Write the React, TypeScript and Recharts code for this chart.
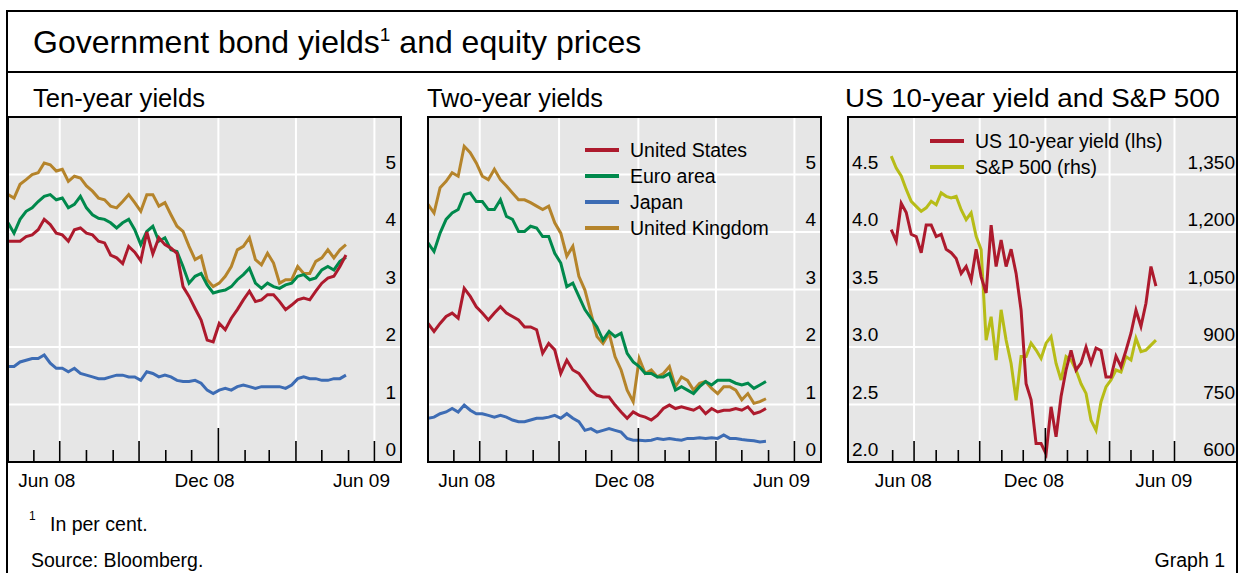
import React from 'react';
import { LineChart, Line, XAxis, YAxis, ReferenceLine, Legend } from 'recharts';

const FONT = '"Liberation Sans", Arial, sans-serif';
const DAY = 86400000;
const utc = (y: number, m: number, d: number) => Date.UTC(y, m - 1, d);

// weekly observation dates (Fridays)
const WEEKS_A = Array.from({ length: 57 }, (_, i) => utc(2008, 5, 2) + i * 7 * DAY);
const WEEKS_B = Array.from({ length: 54 }, (_, i) => utc(2008, 5, 30) + i * 7 * DAY);

// ten-year yields, per cent
const TEN_US = [3.84, 3.84, 3.84, 3.92, 3.95, 4.04, 4.22, 4.13, 3.98, 3.95, 3.84, 4.04, 4.07, 3.98, 3.95, 3.84, 3.81, 3.60, 3.55, 3.45, 3.75, 3.65, 3.50, 4.00, 3.62, 3.90, 3.78, 3.72, 3.63, 3.05, 2.88, 2.67, 2.47, 2.12, 2.09, 2.41, 2.30, 2.50, 2.65, 2.82, 2.97, 2.79, 2.82, 2.91, 2.91, 2.79, 2.65, 2.73, 2.82, 2.85, 2.82, 2.97, 3.11, 3.20, 3.23, 3.40, 3.60];
const TEN_EA = [4.16, 3.98, 4.22, 4.36, 4.42, 4.53, 4.62, 4.65, 4.56, 4.59, 4.42, 4.48, 4.62, 4.42, 4.30, 4.24, 4.22, 4.16, 4.07, 4.16, 4.22, 4.04, 3.78, 4.01, 4.10, 3.84, 3.90, 3.69, 3.66, 3.40, 3.11, 3.23, 3.28, 3.08, 2.94, 2.97, 2.99, 3.05, 3.17, 3.26, 3.37, 3.11, 3.02, 3.11, 3.05, 3.02, 3.08, 3.11, 3.23, 3.26, 3.17, 3.20, 3.34, 3.40, 3.34, 3.49, 3.56];
const TEN_JP = [1.66, 1.66, 1.74, 1.77, 1.80, 1.80, 1.86, 1.72, 1.63, 1.63, 1.57, 1.63, 1.54, 1.51, 1.48, 1.45, 1.45, 1.48, 1.51, 1.51, 1.48, 1.48, 1.42, 1.57, 1.54, 1.48, 1.51, 1.48, 1.42, 1.40, 1.40, 1.42, 1.37, 1.25, 1.19, 1.25, 1.28, 1.25, 1.31, 1.34, 1.31, 1.28, 1.31, 1.31, 1.31, 1.31, 1.28, 1.34, 1.45, 1.48, 1.45, 1.45, 1.42, 1.42, 1.45, 1.45, 1.51];
const TEN_UK = [4.65, 4.59, 4.83, 4.91, 5.00, 5.03, 5.20, 5.17, 5.06, 5.09, 4.88, 4.97, 4.94, 4.80, 4.71, 4.59, 4.56, 4.45, 4.42, 4.53, 4.65, 4.51, 4.36, 4.65, 4.65, 4.45, 4.51, 4.30, 4.10, 4.01, 3.75, 3.52, 3.58, 3.17, 3.05, 3.11, 3.23, 3.40, 3.69, 3.75, 3.90, 3.52, 3.43, 3.63, 3.46, 3.11, 3.17, 3.17, 3.40, 3.28, 3.28, 3.49, 3.55, 3.69, 3.55, 3.69, 3.78];

// two-year yields, per cent
const TWO_US = [2.41, 2.27, 2.41, 2.53, 2.59, 2.50, 3.02, 2.88, 2.70, 2.59, 2.47, 2.59, 2.70, 2.59, 2.53, 2.47, 2.35, 2.35, 2.30, 1.89, 2.06, 1.95, 1.54, 1.77, 1.60, 1.54, 1.40, 1.25, 1.16, 1.13, 1.13, 0.99, 0.87, 0.76, 0.87, 0.81, 0.78, 0.73, 0.81, 0.93, 0.99, 0.93, 0.96, 0.93, 0.90, 0.96, 0.84, 0.93, 0.87, 0.90, 0.90, 0.93, 0.90, 0.96, 0.84, 0.87, 0.93];
const TWO_EA = [3.81, 3.66, 3.98, 4.22, 4.33, 4.39, 4.65, 4.68, 4.53, 4.53, 4.39, 4.39, 4.56, 4.27, 4.22, 4.01, 4.01, 4.10, 4.07, 3.92, 3.92, 3.63, 3.46, 3.05, 3.11, 2.88, 2.65, 2.50, 2.35, 2.12, 2.27, 2.18, 2.24, 1.89, 1.74, 1.66, 1.54, 1.54, 1.48, 1.48, 1.54, 1.25, 1.31, 1.25, 1.19, 1.31, 1.40, 1.34, 1.42, 1.42, 1.42, 1.37, 1.34, 1.37, 1.28, 1.34, 1.40];
const TWO_JP = [0.76, 0.78, 0.84, 0.87, 0.93, 0.87, 0.99, 0.90, 0.84, 0.84, 0.81, 0.78, 0.81, 0.78, 0.73, 0.70, 0.70, 0.73, 0.76, 0.76, 0.78, 0.81, 0.76, 0.84, 0.76, 0.70, 0.55, 0.58, 0.52, 0.55, 0.58, 0.55, 0.52, 0.41, 0.38, 0.38, 0.37, 0.38, 0.41, 0.39, 0.41, 0.39, 0.38, 0.41, 0.41, 0.42, 0.41, 0.42, 0.41, 0.47, 0.41, 0.41, 0.39, 0.38, 0.37, 0.35, 0.36];
const TWO_UK = [4.48, 4.33, 4.77, 4.88, 5.03, 4.97, 5.49, 5.38, 5.20, 4.97, 4.91, 5.09, 4.91, 4.80, 4.68, 4.56, 4.56, 4.51, 4.45, 4.39, 4.45, 4.16, 3.98, 3.58, 3.75, 3.23, 2.99, 2.59, 2.18, 2.06, 2.24, 1.83, 1.60, 1.25, 1.05, 1.80, 1.54, 1.60, 1.48, 1.54, 1.66, 1.31, 1.48, 1.42, 1.25, 1.37, 1.40, 1.28, 1.19, 1.31, 1.31, 1.25, 1.08, 1.19, 1.02, 1.05, 1.10];

// US 10-year yield (lhs) and S&P 500 index (rhs)
const US10 = [4.02, 3.92, 4.25, 4.17, 3.98, 3.96, 3.82, 4.06, 4.06, 3.96, 3.98, 3.85, 3.82, 3.77, 3.64, 3.70, 3.58, 3.85, 3.61, 3.47, 4.06, 3.70, 3.93, 3.70, 3.85, 3.64, 3.32, 2.68, 2.54, 2.16, 2.16, 2.07, 2.48, 2.22, 2.57, 2.80, 2.97, 2.80, 2.86, 3.00, 2.86, 2.99, 2.97, 2.74, 2.74, 2.92, 2.83, 2.97, 3.12, 3.32, 3.18, 3.38, 3.70, 3.53];
const SPX = [1398, 1367, 1346, 1311, 1280, 1267, 1254, 1263, 1280, 1271, 1302, 1293, 1289, 1293, 1258, 1232, 1250, 1189, 1154, 918, 979, 866, 997, 918, 857, 761, 875, 875, 910, 892, 870, 910, 927, 857, 814, 875, 866, 840, 804, 779, 709, 683, 757, 796, 814, 840, 835, 875, 866, 923, 888, 892, 905, 918];

const COLORS = { us: '#ad1a2d', ea: '#00894c', jp: '#3d6cb4', uk: '#b5842b', spx: '#b7bc17' };

// axis furniture
const MONTH_TICKS = Array.from({ length: 14 }, (_, i) => Date.UTC(2008, 5 + i, 1));
const QUARTERS = [utc(2008, 7, 1), utc(2008, 10, 1), utc(2009, 1, 1), utc(2009, 4, 1), utc(2009, 7, 1)];
const DATE_LABELS: Record<number, string> = {
  [utc(2008, 6, 16)]: 'Jun 08',
  [utc(2008, 12, 16)]: 'Dec 08',
  [utc(2009, 6, 16)]: 'Jun 09',
};
const X_TICKS = [...MONTH_TICKS, ...Object.keys(DATE_LABELS).map(Number)];
const YIELD_TICKS = [0, 1, 2, 3, 4, 5];
const LHS_TICKS = [2.0, 2.5, 3.0, 3.5, 4.0, 4.5];
const RHS_TICKS = [600, 750, 900, 1050, 1200, 1350];

const tenData = WEEKS_A.map((t, i) => ({ t, us: TEN_US[i], ea: TEN_EA[i], jp: TEN_JP[i], uk: TEN_UK[i] }));
const twoData = WEEKS_A.map((t, i) => ({ t, us: TWO_US[i], ea: TWO_EA[i], jp: TWO_JP[i], uk: TWO_UK[i] }));
const usData = WEEKS_B.map((t, i) => ({ t, y10: US10[i], spx: SPX[i] }));

const PLOT_H = 345;
const P1 = { x: 8, y: 117, w: 393 };
const P2 = { x: 428, y: 117, w: 393 };
const P3 = { x: 848, y: 117, w: 389 };
const GRID = '#ffffff';
const PLOT_BG = '#e6e6e6';

// month ticks point up into the plot from the bottom edge
const DateTick = (props: any) => {
  const { x, y, payload } = props;
  const v = payload.value;
  if (DATE_LABELS[v]) {
    return (
      <text x={x} y={y + 25} textAnchor="middle" fontSize={19} fill="#000" fontFamily={FONT}>
        {DATE_LABELS[v]}
      </text>
    );
  }
  const m = new Date(v).getUTCMonth();
  const len = m === 0 ? 34 : m % 3 === 0 ? 21 : 12;
  return <line x1={x} x2={x} y1={y} y2={y - len} stroke="#000" strokeWidth={1.6} />;
};

// value labels sit just above their grid line
const makeValueTick = (anchor: 'start' | 'end', fmt: (v: number) => string) => (props: any) => {
  const { x, y, payload } = props;
  return (
    <text x={x} y={y - 6} textAnchor={anchor} fontSize={19} fill="#000" fontFamily={FONT}>
      {fmt(payload.value)}
    </text>
  );
};
const intTick = makeValueTick('end', (v) => String(v));
const lhsTick = makeValueTick('start', (v) => v.toFixed(1));
const rhsTick = makeValueTick('end', (v) => v.toLocaleString('en-US'));

const legendContent = (order: string[]) => (props: any) => {
  const items = [...(props.payload || [])].sort((a: any, b: any) => order.indexOf(a.value) - order.indexOf(b.value));
  return (
    <svg width={270} height={items.length * 26 + 6} style={{ display: 'block', overflow: 'visible' }}>
      {items.map((it: any, i: number) => (
        <g key={it.value}>
          <line x1={0} x2={34} y1={13 + i * 26} y2={13 + i * 26} stroke={it.color} strokeWidth={4} />
          <text x={45} y={20 + i * 26} fontSize={19.5} fill="#000" fontFamily={FONT}>{it.value}</text>
        </g>
      ))}
    </svg>
  );
};

const xAxisProps = {
  dataKey: 't',
  type: 'number' as const,
  ticks: X_TICKS,
  interval: 0 as const,
  tick: DateTick,
  tickLine: false,
  axisLine: false,
  tickSize: 0,
  tickMargin: 0,
  height: 40,
};

// mirrored value axes sit inside the plot; 1px wide so the library still draws them
const valueAxisProps = {
  type: 'number' as const,
  mirror: true,
  width: 1,
  axisLine: false,
  tickLine: false,
  tickSize: 0,
};

const gridLines = (yValues: number[]) => [
  ...yValues.map((v) => <ReferenceLine key={`h${v}`} y={v} stroke={GRID} strokeWidth={2} />),
  ...QUARTERS.map((q) => <ReferenceLine key={`v${q}`} x={q} stroke={GRID} strokeWidth={2} />),
];

const PlotBg = ({ pos }: { pos: { x: number; y: number; w: number } }) => (
  <div style={{ position: 'absolute', left: pos.x, top: pos.y, width: pos.w, height: PLOT_H, background: PLOT_BG }} />
);

const YieldPanel = ({ data, pos, legend }: { data: any[]; pos: { x: number; y: number; w: number }; legend?: boolean }) => (
  <div style={{ position: 'absolute', left: pos.x, top: pos.y }}>
    <LineChart width={pos.w + 1} height={PLOT_H + 40} data={data} margin={{ top: 0, right: 0, bottom: 0, left: 0 }}>
      <XAxis {...xAxisProps} domain={[utc(2008, 5, 2), utc(2009, 8, 2)]} />
      <YAxis {...valueAxisProps} domain={[0, 6]} ticks={YIELD_TICKS} orientation="right" tickMargin={6} tick={intTick} />
      {gridLines(YIELD_TICKS.slice(1))}
      <Line dataKey="uk" name="United Kingdom" stroke={COLORS.uk} strokeWidth={3} dot={false} isAnimationActive={false} />
      <Line dataKey="jp" name="Japan" stroke={COLORS.jp} strokeWidth={3} dot={false} isAnimationActive={false} />
      <Line dataKey="ea" name="Euro area" stroke={COLORS.ea} strokeWidth={3} dot={false} isAnimationActive={false} />
      <Line dataKey="us" name="United States" stroke={COLORS.us} strokeWidth={3} dot={false} isAnimationActive={false} />
      {legend && (
        <Legend
          layout="vertical"
          align="center"
          verticalAlign="middle"
          wrapperStyle={{ position: 'absolute', left: 157, top: 20, width: 'auto' }}
          content={legendContent(['United States', 'Euro area', 'Japan', 'United Kingdom'])}
        />
      )}
    </LineChart>
  </div>
);

const EquityPanel = () => (
  <div style={{ position: 'absolute', left: P3.x - 1, top: P3.y }}>
    <LineChart width={P3.w + 2} height={PLOT_H + 40} data={usData} margin={{ top: 0, right: 0, bottom: 0, left: 0 }}>
      <XAxis {...xAxisProps} domain={[utc(2008, 3, 29), utc(2009, 9, 28)]} />
      <YAxis {...valueAxisProps} domain={[2, 5]} ticks={LHS_TICKS} orientation="left" tickMargin={5} tick={lhsTick} />
      <YAxis {...valueAxisProps} yAxisId="rhs" domain={[600, 1500]} ticks={RHS_TICKS} orientation="right" tickMargin={3} tick={rhsTick} />
      {gridLines(LHS_TICKS.slice(1))}
      <Line yAxisId="rhs" dataKey="spx" name="S&P 500 (rhs)" stroke={COLORS.spx} strokeWidth={3} dot={false} isAnimationActive={false} />
      <Line dataKey="y10" name="US 10-year yield (lhs)" stroke={COLORS.us} strokeWidth={3} dot={false} isAnimationActive={false} />
      <Legend
        layout="vertical"
        align="center"
        verticalAlign="middle"
        wrapperStyle={{ position: 'absolute', left: 83, top: 11, width: 'auto' }}
        content={legendContent(['US 10-year yield (lhs)', 'S&P 500 (rhs)'])}
      />
    </LineChart>
  </div>
);

const Frame = () => (
  <svg width={1241} height={573} style={{ position: 'absolute', left: 0, top: 0, pointerEvents: 'none' }} fontFamily={FONT}>
    <rect x={7} y={11} width={1230} height={600} fill="none" stroke="#000" strokeWidth={2} />
    <line x1={7} x2={1237} y1={72} y2={72} stroke="#000" strokeWidth={2} />
    <text x={33} y={53} fontSize={32} fill="#000">
      Government bond yields<tspan fontSize={19} dy={-12}>1</tspan>
      <tspan dy={12}> and equity prices</tspan>
    </text>
    <text x={33} y={107} fontSize={25} fill="#000" textLength={172} lengthAdjust="spacingAndGlyphs">Ten-year yields</text>
    <text x={427} y={107} fontSize={25} fill="#000" textLength={176} lengthAdjust="spacingAndGlyphs">Two-year yields</text>
    <text x={845} y={107} fontSize={25} fill="#000" textLength={375} lengthAdjust="spacingAndGlyphs">US 10-year yield and S&amp;P 500</text>
    {[P1, P2, P3].map((p, i) => (
      <rect key={i} x={p.x} y={p.y} width={p.w} height={PLOT_H} fill="none" stroke="#000" strokeWidth={2} />
    ))}
    <text x={29} y={520} fontSize={12} fill="#000">1</text>
    <text x={50} y={531} fontSize={19.5} fill="#000">In per cent.</text>
    <text x={31} y={567} fontSize={19.5} fill="#000">Source: Bloomberg.</text>
    <text x={1225} y={567} fontSize={19.5} fill="#000" textAnchor="end">Graph 1</text>
  </svg>
);

export default function App() {
  return (
    <div style={{ position: 'absolute', left: 0, top: 0, width: 1241, height: 573, background: '#fff', overflow: 'hidden' }}>
      <PlotBg pos={P1} />
      <PlotBg pos={P2} />
      <PlotBg pos={P3} />
      <YieldPanel data={tenData} pos={P1} />
      <YieldPanel data={twoData} pos={P2} legend />
      <EquityPanel />
      <Frame />
    </div>
  );
}
